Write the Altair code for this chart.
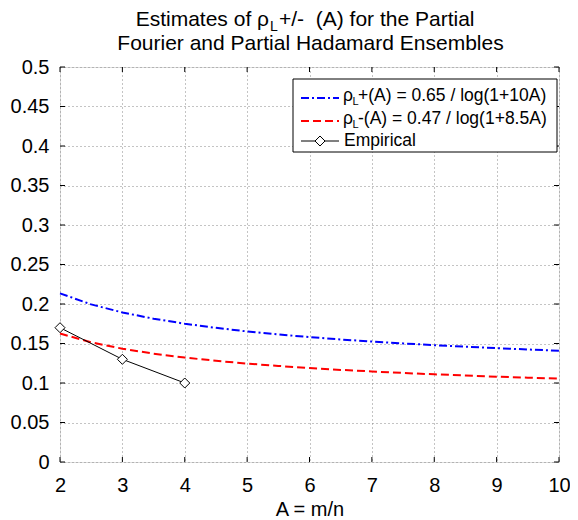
import altair as alt
import pandas as pd

# ---- data ----
A_grid = [2.0, 2.5, 3.0, 3.5, 4.0, 4.5, 5.0, 5.5, 6.0, 6.5, 7.0, 7.5, 8.0, 8.5, 9.0, 9.5, 10.0]
rho_plus = [0.2135, 0.1995, 0.1893, 0.1814, 0.1750, 0.1698, 0.1653, 0.1615, 0.1581,
            0.1551, 0.1525, 0.1501, 0.1479, 0.1459, 0.1441, 0.1424, 0.1408]
rho_minus = [0.1626, 0.1515, 0.1434, 0.1372, 0.1322, 0.1281, 0.1246, 0.1216, 0.1190,
             0.1166, 0.1146, 0.1127, 0.1110, 0.1095, 0.1080, 0.1067, 0.1055]
emp_A = [2, 3, 4]
emp_rho = [0.17, 0.13, 0.10]
x_ticks = [2, 3, 4, 5, 6, 7, 8, 9, 10]
y_ticks = [0, 0.05, 0.1, 0.15, 0.2, 0.25, 0.3, 0.35, 0.4, 0.45, 0.5]

title1_a = "Estimates of ρ"
title1_sub = "L"
title1_b = "+/-\u00a0\u00a0(A) for the Partial"
title2 = "Fourier and Partial Hadamard Ensembles"
leg1_b = "+(A) = 0.65 / log(1+10A)"
leg2_b = "-(A) = 0.47 / log(1+8.5A)"
leg3 = "Empirical"
x_title = "A = m/n"

W, H = 499, 395
FONT = "Liberation Sans"

df_plus = pd.DataFrame({"A": A_grid, "rho": rho_plus})
df_minus = pd.DataFrame({"A": A_grid, "rho": rho_minus})
df_emp = pd.DataFrame({"A": emp_A, "rho": emp_rho})
df_xt = pd.DataFrame({"A": x_ticks})
df_yt = pd.DataFrame({"rho": y_ticks})
one = pd.DataFrame({"k": [0]})

xs = alt.Scale(domain=[2, 10], nice=False)
ys = alt.Scale(domain=[0, 0.5], nice=False)

x_enc = alt.X("A:Q", scale=xs, axis=alt.Axis(
    values=x_ticks, title=x_title, domain=False, ticks=False,
    labelFontSize=20, labelFont=FONT, labelColor="black", labelPadding=13,
    titleFontSize=20, titleFont=FONT, titleFontWeight="normal", titleColor="black", titlePadding=4,
    grid=True, gridDash=[1, 3], gridColor="#888888", gridWidth=1,
    labelFlush=False))
y_enc = alt.Y("rho:Q", scale=ys, axis=alt.Axis(
    values=y_ticks, format=".2~f", title=None, domain=False, ticks=False,
    labelFontSize=20, labelFont=FONT, labelColor="black", labelPadding=11,
    grid=True, gridDash=[1, 3], gridColor="#888888", gridWidth=1,
    labelFlush=False))

plus_line = alt.Chart(df_plus).mark_line(color="#0000ff", strokeWidth=2, strokeDash=[8, 3, 2, 3]).encode(x=x_enc, y=y_enc)
minus_line = alt.Chart(df_minus).mark_line(color="#ff0000", strokeWidth=2, strokeDash=[8, 4]).encode(x=x_enc, y=y_enc)
emp_line = alt.Chart(df_emp).mark_line(color="black", strokeWidth=1).encode(x=x_enc, y=y_enc)
emp_pts = alt.Chart(df_emp).mark_point(shape="diamond", filled=True, fill="white", stroke="black",
                                       strokeWidth=1, size=100, opacity=1).encode(x=x_enc, y=y_enc)

# inward ticks on all four sides
xt_bot = alt.Chart(df_xt).mark_rule(color="black").encode(x=x_enc, y=alt.value(H), y2=alt.value(H - 5))
xt_top = alt.Chart(df_xt).mark_rule(color="black").encode(x=x_enc, y=alt.value(0), y2=alt.value(5))
yt_left = alt.Chart(df_yt).mark_rule(color="black").encode(y=y_enc, x=alt.value(0), x2=alt.value(5))
yt_right = alt.Chart(df_yt).mark_rule(color="black").encode(y=y_enc, x=alt.value(W), x2=alt.value(W - 5))


def txt(s, x, y, size, align="left", baseline="alphabetic"):
    return alt.Chart(pd.DataFrame({"t": [s]})).mark_text(
        font=FONT, fontSize=size, color="black", align=align, baseline=baseline
    ).encode(text="t:N", x=alt.value(x), y=alt.value(y))


# title
t1a = txt(title1_a, 209, -41, 21, align="right")
t1s = txt(title1_sub, 210, -36, 14)
t1b = txt(title1_b, 219, -41, 21)
t2 = txt(title2, 250.5, -17, 21, align="center")

# legend
box = alt.Chart(one).mark_rect(fill="white", stroke="black", strokeWidth=1).encode(
    x=alt.value(233), x2=alt.value(497), y=alt.value(12), y2=alt.value(85))
l1 = alt.Chart(one).mark_rule(color="#0000ff", strokeWidth=2, strokeDash=[8, 3, 2, 3]).encode(
    x=alt.value(241), x2=alt.value(279), y=alt.value(31))
l2 = alt.Chart(one).mark_rule(color="#ff0000", strokeWidth=2, strokeDash=[8, 4]).encode(
    x=alt.value(241), x2=alt.value(279), y=alt.value(54))
l3 = alt.Chart(one).mark_rule(color="black", strokeWidth=1).encode(
    x=alt.value(241), x2=alt.value(279), y=alt.value(74))
l3p = alt.Chart(one).mark_point(shape="diamond", filled=True, fill="white", stroke="black",
                                strokeWidth=1, size=100, opacity=1).encode(x=alt.value(260), y=alt.value(74))
g1a = txt("ρ", 283, 34, 17.5)
g1s = txt("L", 292.5, 38, 11)
g1b = txt(leg1_b, 298, 34, 17.5)
g2a = txt("ρ", 283, 56.5, 17.5)
g2s = txt("L", 292.5, 60.5, 11)
g2b = txt(leg2_b, 298, 56.5, 17.5)
g3 = txt(leg3, 284, 79, 17.5)

chart = alt.layer(
    plus_line, minus_line, emp_line, emp_pts,
    xt_bot, xt_top, yt_left, yt_right,
    t1a, t1s, t1b, t2,
    box, l1, l2, l3, l3p, g1a, g1s, g1b, g2a, g2s, g2b, g3,
).properties(
    width=W, height=H,
    autosize=alt.AutoSizeParams(type="none"),
    padding={"left": 52, "top": 59, "right": 11, "bottom": 58},
).configure_view(stroke="black", strokeWidth=1).configure(background="white")

chart.save("out.html", embed_options={"renderer": "svg", "actions": False})
